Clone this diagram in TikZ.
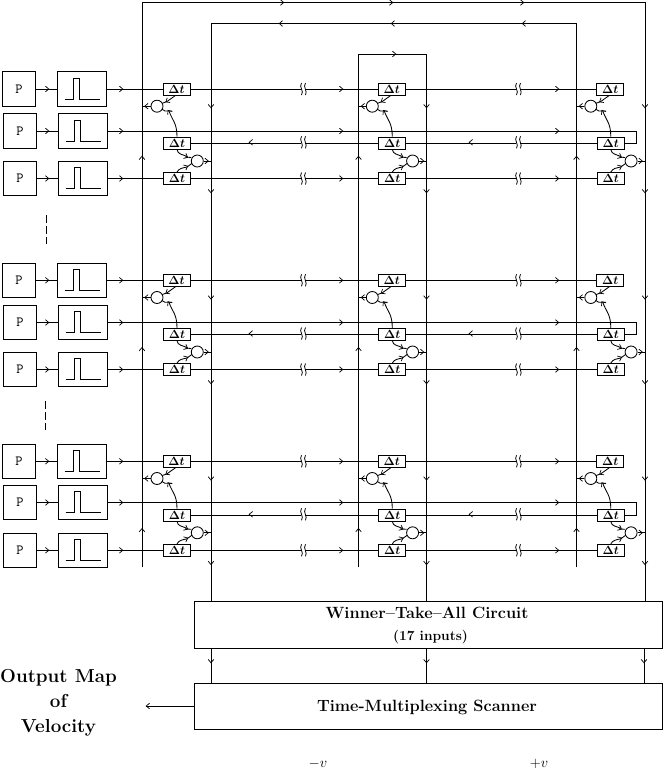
\documentclass[tikz,border=0pt]{standalone}
\usetikzlibrary{calc}
\tikzset{
  wire/.style={line width=0.85pt},
  box/.style={draw,line width=0.85pt,rectangle,inner sep=0pt},
  sensor/.style={box,minimum width=33pt,minimum height=34.5pt,font=\ttfamily\fontsize{14}{16}\selectfont},
  pulsebox/.style={box,minimum width=49pt,minimum height=34.5pt},
  delay/.style={box,minimum width=27pt,minimum height=12pt,font=\fontsize{12}{13}\selectfont\boldmath},
  adder/.style={draw,line width=0.85pt,circle,minimum size=12pt,inner sep=0pt},
  panel/.style={box,minimum width=468pt,anchor=west},
  title/.style={font=\bfseries\fontsize{16.3}{18}\selectfont,inner sep=0pt,anchor=base},
  subtitle/.style={font=\bfseries\fontsize{13.75}{15}\selectfont,inner sep=0pt,anchor=base},
  maptitle/.style={font=\bfseries\fontsize{18.8}{21}\selectfont,inner sep=0pt,anchor=base},
  signlabel/.style={inner sep=0pt,font=\fontsize{15.5}{18}\selectfont,anchor=base},
  chev/.pic={\draw[line width=0.7pt] (-2.6,-2.8) -- (0.8,0) -- (-2.6,2.8);},
  gapmark/.pic={\fill[white] (-2.2,-5) rectangle (2.2,5);
    \draw[line width=0.8pt] (-1.5,-6) .. controls (-4.5,-2) and (1.5,2) .. (-1.5,6);
    \draw[line width=0.8pt] (2.5,-6) .. controls (-0.5,-2) and (5,2) .. (2.5,6);}
}
\newcommand{\chevat}[3]{\pic[rotate=#3] at (#1,#2) {chev};}
\newcommand{\gapat}[2]{\pic at (#1,#2) {gapmark};}
\begin{document}
\begin{tikzpicture}[x=1pt,y=-1pt]
\useasboundingbox (0,0) rectangle (663,769);

% Lower panels
\node[panel,minimum height=47pt] (wta) at (194,624.7) {};
\node[title] (wtaA) at (427,618.5) {Winner--Take--All Circuit};
\node[subtitle] (wtaB) at (430.5,640.5) {(17 inputs)};
\node[panel,minimum height=46pt] (scan) at (194,706) {};
\node[title] (scanT) at (427,711) {Time-Multiplexing Scanner};

% Feedback frames around the delay array
\coordinate (oa) at (142,567);   \coordinate (ob) at (142,2.5);
\coordinate (oc) at (645,2.5);
\coordinate (ma) at (576.5,567); \coordinate (mb) at (576.5,23.5);
\coordinate (mc) at (211,23.5);
\coordinate (ia) at (358.5,567); \coordinate (ib) at (358.5,54);
\coordinate (ic) at (426.5,54);
\draw[wire] (oa) -- (ob) -- (oc) -- (oc |- wta.north);
\draw[wire] (ma) -- (mb) -- (mc) -- (mc |- wta.north);
\draw[wire] (ia) -- (ib) -- (ic) -- (ic |- wta.north);
\foreach \x in {283,392,523} {\chevat{\x}{2.5}{0}}
\foreach \x in {280,392,523} {\chevat{\x}{23.5}{180}}
\chevat{395}{54}{0}

% Winner-take-all outputs into the scanner
\coordinate (q1) at (211,648); \coordinate (q2) at (426.5,648); \coordinate (q3) at (644,648);
\foreach \q in {q1,q2,q3} {\draw[wire] (\q |- wta.south) -- (\q |- scan.north);}
\foreach \x in {211,426.5,644} {\chevat{\x}{662}{-90}}

% Scanner output and its label
\coordinate (mapEnd) at (146,706);
\draw[wire] (scan.west) -- (mapEnd);
\chevat{147}{706}{180}
\node[maptitle] (mapA) at (58.5,682) {Output Map};
\node[maptitle] (mapB) at (58.5,707) {of};
\node[maptitle] (mapC) at (58.5,732.5) {Velocity};
\node[signlabel] (minusv) at (318,767) {$-v$};
\node[signlabel] (plusv) at (539,767) {$+v$};

% Rows of omitted channels
\coordinate (da) at (46.5,215); \coordinate (db) at (46.5,244);
\coordinate (dc) at (45.5,401); \coordinate (dd) at (45.5,430);
\draw[wire,dash pattern=on 7.5pt off 3.5pt] (da) -- (db);
\draw[wire,dash pattern=on 7.5pt off 3.5pt] (dc) -- (dd);

% One channel group per block: rows A, B, return row R, C
\foreach \b/\ya/\yb/\yr/\yc in {1/89/131/142.3/178.5, 2/280.3/322.5/333.5/369.5, 3/461.3/502.5/514.3/550.3} {
  % Photoreceptors and pulse shapers
  \foreach \r/\y/\px/\qx in {a/\ya/19/82, b/\yb/20/83, c/\yc/20/83} {
    \node[sensor] (p\b\r) at (\px,\y) {P};
    \node[pulsebox] (s\b\r) at (\qx,\y) {};
    \draw[wire] (p\b\r.east) -- (s\b\r.west);
    \chevat{48}{\y}{0}
    \draw[wire] ($(s\b\r.west)+(7.5,10)$) -| ($(s\b\r.west)+(16,-11)$) -| ($(s\b\r.west)+(22,10)$) -- ($(s\b\r.west)+(43,10)$);
    \chevat{122}{\y}{0}
  }
  % Delay elements and correlators, three columns
  \foreach \c/\dx/\ol/\ot in {1/0/142/211, 2/215.3/358.5/426.5, 3/433.8/576.5/645} {
    \node[delay] (da\b\c) at ({176.5+\dx},\ya) {$\Delta t$};
    \node[delay] (dr\b\c) at ({177+\dx},{\yr+0.7}) {$\Delta t$};
    \node[delay] (dc\b\c) at ({177+\dx},\yc) {$\Delta t$};
    \node[adder] (x\b\c) at ({157+\dx},{\ya+17.2}) {};
    \node[adder] (y\b\c) at ({197.3+\dx},{\yc-17.5}) {};
    % Inputs of the left correlator
    \draw[wire] (da\b\c.south) ++(-1,0) -- ({167+\dx},{\ya+12.5}) -- ($(x\b\c.center)+(5.4,-3)$);
    \pic[rotate=212] at ({166.5+\dx},{\ya+12.5}) {chev};
    \draw[wire] (dr\b\c.north) .. controls +(0,-14) and +(3,9) .. ({169+\dx},{\ya+22});
    \draw[wire] ($(x\b\c.center)+(5,3)$) -- ({165+\dx},{\ya+22}) -- ({172+\dx},{\ya+22});
    \pic[rotate=125] at ({168.5+\dx},{\ya+22}) {chev};
    % Inputs of the right correlator
    \draw[wire] (dr\b\c.south) .. controls +(0.5,5) and +(-4,-2) .. ({187+\dx},{\yc-22});
    \draw[wire] ({185+\dx},{\yc-21.5}) -- ($(y\b\c.center)+(-6,-3.5)$);
    \pic[rotate=-25] at ({187+\dx},{\yc-21.5}) {chev};
    \draw[wire] (dc\b\c.north) .. controls +(2,-4) and +(-4,1) .. ({187+\dx},{\yc-11.5}) -- ($(y\b\c.center)+(-5.5,2.5)$);
    \pic[rotate=25] at ({187+\dx},{\yc-12}) {chev};
    % Correlator outputs onto the vertical buses
    \coordinate (lx\b\c) at (\ol,{\ya+17.2});
    \coordinate (rx\b\c) at (\ot,{\yc-17.5});
    \draw[wire] (x\b\c.west) -- (lx\b\c);
    \pic[rotate=180] at ({\ol+3.5},{\ya+17.2}) {chev};
    \draw[wire] (y\b\c.east) -- (rx\b\c);
    \pic at ({\ot-3.5},{\yc-17.5}) {chev};
  }
  % Delay lines between columns
  \draw[wire] (s\b a.east) -- (da\b1.west);
  \draw[wire] (s\b c.east) -- (dc\b1.west);
  \draw[wire] (da\b1.east) -- (da\b2.west);
  \draw[wire] (da\b2.east) -- (da\b3.west);
  \draw[wire] (dc\b1.east) -- (dc\b2.west);
  \draw[wire] (dc\b2.east) -- (dc\b3.west);
  \draw[wire] (dr\b3.west) -- (dr\b2.east);
  \draw[wire] (dr\b2.west) -- (dr\b1.east);
  \foreach \y in {\ya,\yr,\yc} {\gapat{303}{\y}\gapat{518}{\y}}
  \foreach \x in {342,558} {\chevat{\x}{\ya}{0}\chevat{\x}{\yb}{0}\chevat{\x}{\yc}{0}}
  \foreach \x in {250,470} {\chevat{\x}{\yr}{180}}
  % Row B runs across and folds back into the return row
  \coordinate (fold\b) at (636.5,\yb);
  \draw[wire] (s\b b.east) -- (fold\b) |- (dr\b3.east);
  % Direction marks on the vertical buses
  \foreach \x in {142,358.5,576.5} {\chevat{\x}{\ya+68}{90}}
  \foreach \x in {211,426.5,645} {\chevat{\x}{\ya+18}{-90}\chevat{\x}{\yc+13.5}{-90}}
}
\end{tikzpicture}
\end{document}
